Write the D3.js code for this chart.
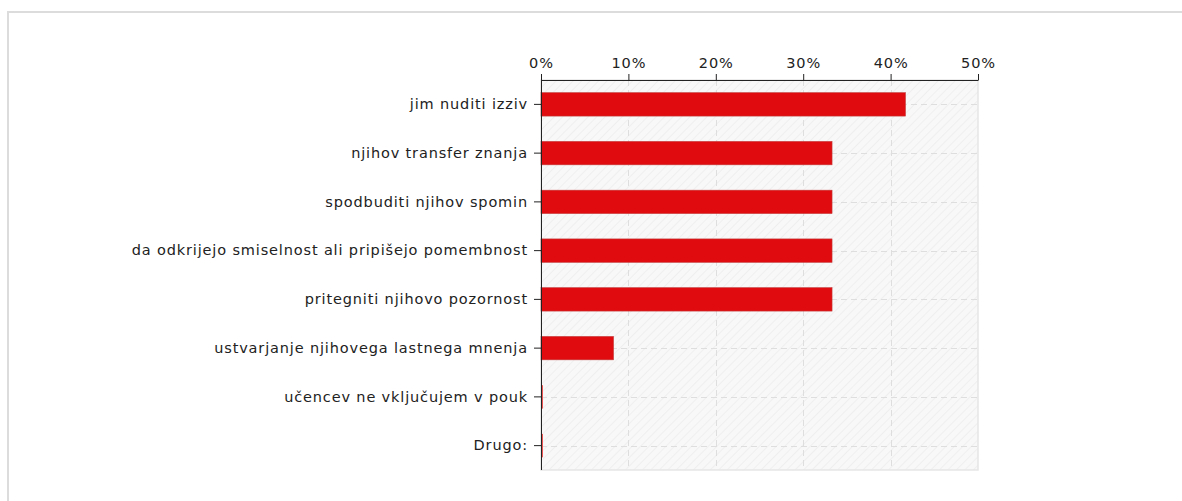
<!DOCTYPE html>
<html>
<head>
<meta charset="utf-8">
<script src="https://cdn.jsdelivr.net/npm/d3@7"></script>
<style>
  html, body { margin: 0; padding: 0; background: #fff; }
  svg { display: block; }
</style>
</head>
<body>
<svg id="chart" width="1182" height="501"></svg>
<script>
// Answer options and the share of respondents choosing each (percent)
const categories = [
  "jim nuditi izziv",
  "njihov transfer znanja",
  "spodbuditi njihov spomin",
  "da odkrijejo smiselnost ali pripišejo pomembnost",
  "pritegniti njihovo pozornost",
  "ustvarjanje njihovega lastnega mnenja",
  "učencev ne vključujem v pouk",
  "Drugo:"
];
const values = [41.7, 33.3, 33.3, 33.3, 33.3, 8.3, 0, 0];
const tickValues = [0, 10, 20, 30, 40, 50];

const FONT = "DejaVu Sans";
const svg = d3.select("#chart");

// outer panel frame (top and left edges visible)
svg.append("path")
  .attr("d", "M8,1182 V12 H1182")
  .attr("fill", "none")
  .attr("stroke", "#dcdcdc")
  .attr("stroke-width", 2);

const plot = { left: 541, right: 978, top: 80, bottom: 470 };

const x = d3.scaleLinear().domain([0, 50]).range([plot.left, plot.right]);
const y = d3.scaleBand().domain(categories)
  .range([plot.top, plot.bottom]).paddingInner(0.52).paddingOuter(0.26);

// hatched plot background
const defs = svg.append("defs");
const pat = defs.append("pattern")
  .attr("id", "hatch").attr("patternUnits", "userSpaceOnUse")
  .attr("width", 6).attr("height", 6)
  .attr("patternTransform", "rotate(45)");
pat.append("rect").attr("width", 6).attr("height", 6).attr("fill", "#f8f8f8");
pat.append("line").attr("x1", 0).attr("y1", 0).attr("x2", 0).attr("y2", 6)
  .attr("stroke", "#ececec").attr("stroke-width", 1.5);

svg.append("rect")
  .attr("x", plot.left).attr("y", plot.top)
  .attr("width", plot.right - plot.left).attr("height", plot.bottom - plot.top)
  .attr("fill", "url(#hatch)")
  .attr("stroke", "#e6e6e6").attr("stroke-width", 1.5);

// dashed grid
const grid = svg.append("g")
  .attr("stroke", "#dedede").attr("stroke-width", 1).attr("stroke-dasharray", "6,4");
grid.selectAll("line.v").data(tickValues.slice(1, -1)).join("line")
  .attr("x1", d => Math.round(x(d)) + 0.5).attr("x2", d => Math.round(x(d)) + 0.5)
  .attr("y1", plot.top).attr("y2", plot.bottom);
grid.selectAll("line.h").data(categories).join("line")
  .attr("x1", plot.left).attr("x2", plot.right)
  .attr("y1", d => Math.round(y(d) + y.bandwidth() / 2) + 0.5)
  .attr("y2", d => Math.round(y(d) + y.bandwidth() / 2) + 0.5);

// bars
svg.append("g").selectAll("rect").data(values).join("rect")
  .attr("x", x(0))
  .attr("y", (d, i) => y(categories[i]))
  .attr("width", d => Math.max(x(d) - x(0), 2))
  .attr("height", y.bandwidth())
  .attr("fill", d => d > 0 ? "#e00b0e" : "#ee5555")
  .attr("stroke", "#c43a3a").attr("stroke-width", d => d > 0 ? 0.6 : 0);

// top axis
const xAxis = svg.append("g")
  .attr("transform", `translate(0,${plot.top})`)
  .call(d3.axisTop(x).tickValues(tickValues).tickFormat(d => d + "%").tickSize(6).tickSizeOuter(0).tickPadding(6));
xAxis.select(".domain").attr("stroke", "#222");
xAxis.selectAll(".tick line").attr("stroke", "#222");
xAxis.selectAll("text")
  .attr("font-size", 14.5).attr("font-family", FONT).attr("fill", "#222")
  .attr("letter-spacing", "0.9px");

// left axis
const yAxis = svg.append("g")
  .attr("transform", `translate(${plot.left},0)`)
  .call(d3.axisLeft(y).tickSize(7).tickSizeOuter(0).tickPadding(6));
yAxis.select(".domain").attr("stroke", "#222").attr("d", `M0.5,${plot.top}V${plot.bottom}`);
yAxis.selectAll(".tick line").attr("stroke", "#222");
yAxis.selectAll("text")
  .attr("font-size", 14.5).attr("font-family", FONT).attr("fill", "#222")
  .attr("letter-spacing", "0.85px");
</script>
</body>
</html>
